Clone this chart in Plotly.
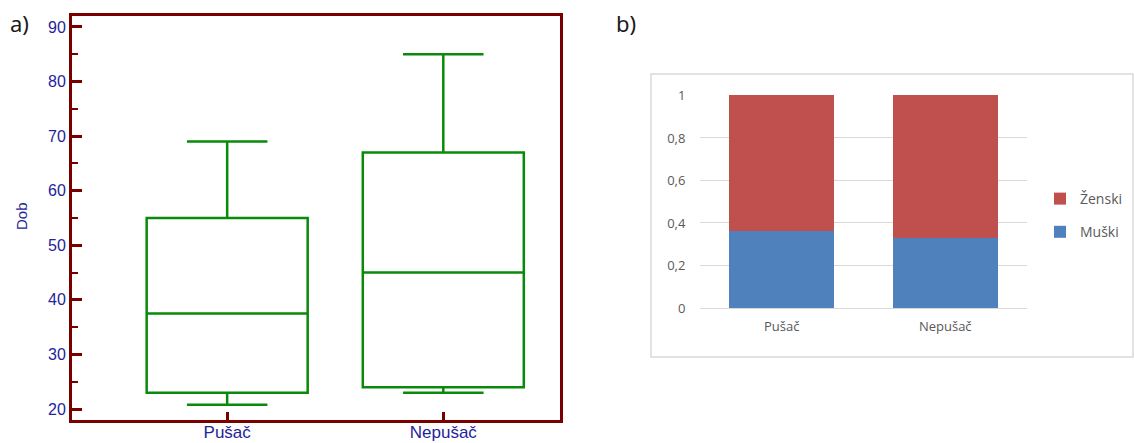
import plotly.graph_objects as go

# Box plot summary: age (Dob) by smoking status
groups = ["Pušač", "Nepušač"]
dob_low = [20.8, 23]
dob_q1 = [23, 24]
dob_median = [37.5, 45]
dob_q3 = [55, 67]
dob_high = [69, 85]

# Stacked share of sex by smoking status
sex_male = [0.363, 0.33]
sex_female = [0.637, 0.67]

frame = "#7A0000"
navy = "#24249A"
green = "#0A8A0A"
grey_txt = "#595959"

fig = go.Figure()

for i, g in enumerate(groups):
    fig.add_trace(go.Box(
        x=[i], q1=[dob_q1[i]], median=[dob_median[i]], q3=[dob_q3[i]],
        lowerfence=[dob_low[i]], upperfence=[dob_high[i]],
        width=0.745, whiskerwidth=0.5, boxpoints=False,
        line=dict(color=green, width=2.5), fillcolor="rgba(255,255,255,0)",
        showlegend=False, xaxis="x", yaxis="y", hoverinfo="skip",
    ))

fig.add_trace(go.Bar(x=groups, y=sex_male, name="Muški", marker_color="#4F81BD",
                     marker_line_width=0, xaxis="x2", yaxis="y2",
                     legendgroup="m", legendrank=2))
fig.add_trace(go.Bar(x=groups, y=sex_female, name="Ženski", marker_color="#C0504D",
                     marker_line_width=0, xaxis="x2", yaxis="y2",
                     legendgroup="z", legendrank=1))

W, H = 1134, 443

def px_x(v):
    return v / W

def px_y(v):
    return 1 - v / H

fig.update_layout(
    width=W, height=H, margin=dict(l=0, r=0, t=0, b=0, autoexpand=False),
    paper_bgcolor="white", plot_bgcolor="white",
    barmode="stack", bargap=0.36,
    font=dict(family="Liberation Sans, Arial, sans-serif"),
    xaxis=dict(
        domain=[px_x(72), px_x(560)], anchor="y", automargin=False,
        range=[-0.718, 1.54], tickvals=[0, 1], ticktext=groups,
        ticks="inside", ticklen=8, tickwidth=3, tickcolor=frame,
        showline=True, linecolor=frame, linewidth=3, mirror=True,
        showgrid=False, zeroline=False, ticklabelstandoff=-5,
        tickfont=dict(size=17, color=navy),
    ),
    yaxis=dict(
        domain=[px_y(420), px_y(16)], anchor="x", automargin=False,
        range=[18.0, 92], dtick=10, tick0=0,
        ticks="inside", ticklen=10, tickwidth=3, tickcolor=frame,
        minor=dict(ticks="inside", ticklen=6, tickwidth=2, tickcolor=frame, dtick=5),
        showline=True, linecolor=frame, linewidth=3, mirror=True,
        showgrid=False, zeroline=False,
        tickfont=dict(size=16, color=navy),
    ),
    xaxis2=dict(
        domain=[px_x(700), px_x(1027)], anchor="y2", automargin=False,
        showline=False, showgrid=False, zeroline=False,
        ticks="outside", ticklen=6, tickcolor="rgba(0,0,0,0)",
        tickfont=dict(size=13, color=grey_txt, family="Open Sans, sans-serif"),
    ),
    yaxis2=dict(
        domain=[px_y(308), px_y(95)], anchor="x2", automargin=False,
        range=[0, 1.002], tickvals=[0, 0.2, 0.4, 0.6, 0.8, 1],
        ticktext=["0", "0,2", "0,4", "0,6", "0,8", "1"],
        showgrid=True, gridcolor="#D9D9D9", gridwidth=1,
        zeroline=True, zerolinecolor="#D9D9D9", zerolinewidth=1,
        showline=False, ticks="outside", ticklen=11, tickcolor="rgba(0,0,0,0)",
        tickfont=dict(size=13, color=grey_txt, family="Open Sans, sans-serif"),
    ),
    legend=dict(
        x=px_x(1040), y=px_y(183), xanchor="left", yanchor="top",
        traceorder="grouped", bgcolor="rgba(0,0,0,0)",
        font=dict(size=14, color=grey_txt, family="Open Sans, sans-serif"),
        itemwidth=30, tracegroupgap=12,
    ),
    shapes=[
        dict(type="rect", xref="paper", yref="paper",
             x0=px_x(651), x1=px_x(1133), y0=px_y(357), y1=px_y(74),
             line=dict(color="#D9D9D9", width=1.5), layer="below"),
    ],
    annotations=[
        dict(text="a)", x=px_x(8), y=px_y(23), xref="paper", yref="paper",
             xanchor="left", yanchor="middle", showarrow=False,
             font=dict(size=22, color="#1a1a1a", family="Noto Sans, sans-serif")),
        dict(text="b)", x=px_x(614), y=px_y(23), xref="paper", yref="paper",
             xanchor="left", yanchor="middle", showarrow=False,
             font=dict(size=22, color="#1a1a1a", family="Noto Sans, sans-serif")),
        dict(text="Dob", x=px_x(21), y=px_y(216), xref="paper", yref="paper",
             xanchor="center", yanchor="middle", showarrow=False, textangle=-90,
             font=dict(size=15, color=navy)),
    ],
)

fig.write_html("out.html")
